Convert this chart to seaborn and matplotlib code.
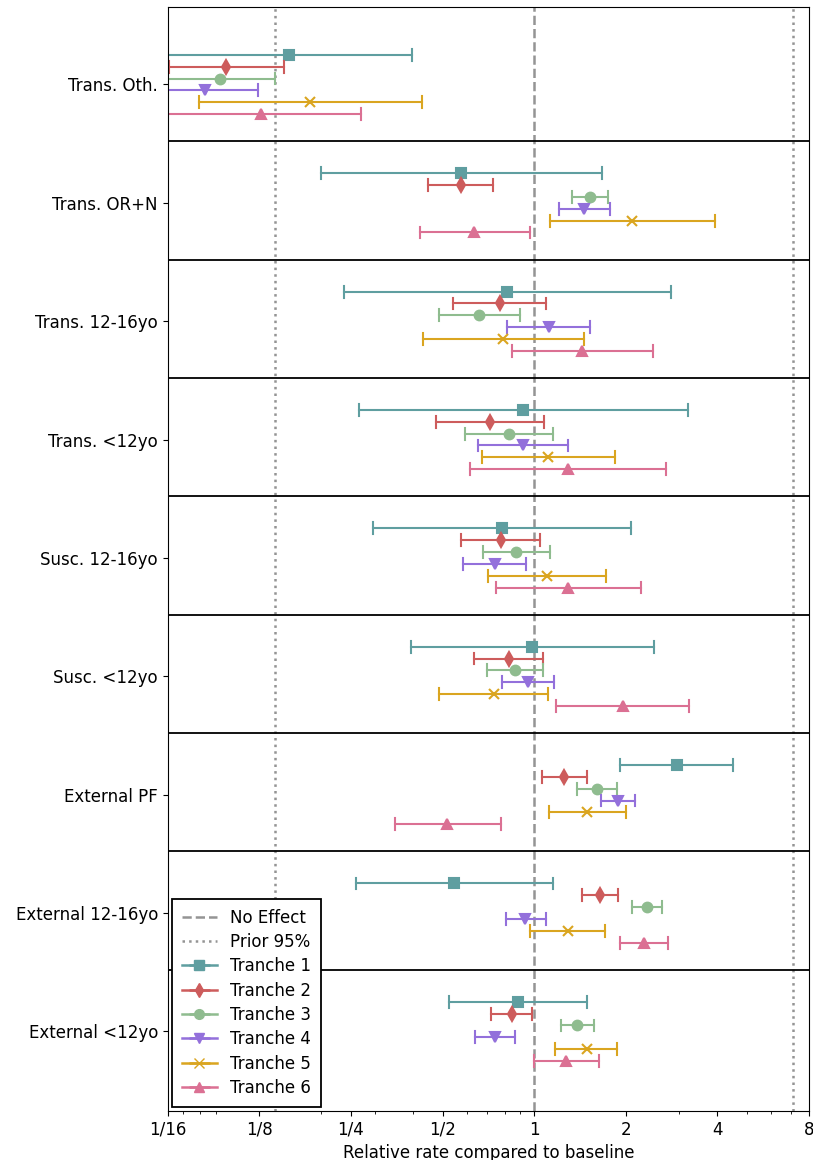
import numpy as np
import pandas as pd
import matplotlib
matplotlib.use("Agg")
import matplotlib.pyplot as plt
from matplotlib.ticker import NullFormatter
from matplotlib.container import ErrorbarContainer
from matplotlib.legend_handler import HandlerErrorbar
import seaborn as sns

categories = ['Trans. Oth.', 'Trans. OR+N', 'Trans. 12-16yo', 'Trans. <12yo',
              'Susc. 12-16yo', 'Susc. <12yo', 'External PF',
              'External 12-16yo', 'External <12yo']
tranches = ['Tranche 1', 'Tranche 2', 'Tranche 3', 'Tranche 4', 'Tranche 5', 'Tranche 6']

# median and 95% interval per category, one set of lists per tranche
t1_mid = [0.157, 0.576, 0.814, 0.921, 0.786, 0.984, 2.943, 0.547, 0.884]
t1_lo = [0.040, 0.200, 0.237, 0.266, 0.296, 0.393, 1.908, 0.260, 0.524]
t1_hi = [0.398, 1.665, 2.807, 3.205, 2.078, 2.473, 4.513, 1.149, 1.490]

t2_mid = [0.097, 0.576, 0.772, 0.715, 0.779, 0.824, 1.256, 1.644, 0.846]
t2_lo = [0.0633, 0.449, 0.543, 0.475, 0.577, 0.636, 1.062, 1.439, 0.722]
t2_hi = [0.151, 0.732, 1.096, 1.075, 1.048, 1.072, 1.490, 1.883, 0.984]

t3_mid = [0.093, 1.525, 0.661, 0.824, 0.873, 0.865, 1.608, 2.351, 1.385]
t3_lo = [0.045, 1.333, 0.487, 0.593, 0.680, 0.699, 1.385, 2.104, 1.229]
t3_hi = [0.141, 1.748, 0.898, 1.149, 1.124, 1.069, 1.877, 2.634, 1.572]

t4_mid = [0.083, 1.462, 1.117, 0.918, 0.743, 0.957, 1.883, 0.936, 0.743]
t4_lo = [0.040, 1.206, 0.817, 0.654, 0.582, 0.786, 1.660, 0.809, 0.640]
t4_hi = [0.124, 1.778, 1.523, 1.296, 0.942, 1.161, 2.137, 1.093, 0.862]

t5_mid = [0.183, 2.090, 0.791, 1.113, 1.103, 0.736, 1.490, 1.288, 1.486]
t5_lo = [0.079, 1.128, 0.432, 0.675, 0.706, 0.487, 1.120, 0.969, 1.175]
t5_hi = [0.427, 3.930, 1.462, 1.848, 1.718, 1.113, 2.000, 1.712, 1.877]

t6_mid = [0.127, 0.636, 1.435, 1.292, 1.296, 1.956, 0.519, 2.291, 1.272]
t6_lo = [0.040, 0.423, 0.843, 0.616, 0.747, 1.183, 0.348, 1.913, 1.000]
t6_hi = [0.269, 0.969, 2.457, 2.719, 2.249, 3.236, 0.779, 2.753, 1.634]

xtick_vals = [1/16, 1/8, 1/4, 1/2, 1, 2, 4, 8]
xtick_labels = ['1/16', '1/8', '1/4', '1/2', '1', '2', '4', '8']

colors = ['#5f9ea0', '#cd5c5c', '#8fbc8f', '#9370db', '#daa520', '#db7093']
markers = ['s', 'd', 'o', 'v', 'x', '^']

# long table: lower, median, upper rows for every category/tranche
mids = [t1_mid, t2_mid, t3_mid, t4_mid, t5_mid, t6_mid]
los = [t1_lo, t2_lo, t3_lo, t4_lo, t5_lo, t6_lo]
his = [t1_hi, t2_hi, t3_hi, t4_hi, t5_hi, t6_hi]
rows = []
for t, mid, lo, hi in zip(tranches, mids, los, his):
    for c, m, l, h in zip(categories, mid, lo, hi):
        for v in (l, m, h):
            rows.append({'category': c, 'tranche': t, 'value': v})
df = pd.DataFrame(rows)

plt.rcParams['font.size'] = 12
fig = plt.figure(figsize=(8.13, 11.6), dpi=100)
ax = fig.add_axes([0.2063, 0.0422, 0.7888, 0.9515])

ref_grey = '#949494'
no_eff = ax.axvline(1, color=ref_grey, linestyle='--', linewidth=1.8, label='No Effect', zorder=1)
prior = ax.axvline(np.exp(-1.96), color=ref_grey, linestyle=':', linewidth=1.8, label='Prior 95%', zorder=1)
ax.axvline(np.exp(1.96), color=ref_grey, linestyle=':', linewidth=1.8, zorder=1)

sns.pointplot(data=df, x='value', y='category', hue='tranche',
              order=categories, hue_order=tranches,
              estimator='median', errorbar=lambda v: (v.min(), v.max()),
              dodge=0.5, markers=markers, linestyles='none', palette=colors,
              capsize=0.1, err_kws={'linewidth': 1.5}, markersize=7,
              markeredgewidth=1.5, log_scale=True, legend=False, ax=ax)

for i in range(len(categories) - 1):
    ax.axhline(i + 0.48, color='black', linewidth=1.3)

ax.set_xlim(1/16, 8)
ax.set_ylim(8.673, -0.652)
ax.set_xticks(xtick_vals, xtick_labels)
ax.xaxis.set_minor_formatter(NullFormatter())
ax.set_xlabel('Relative rate compared to baseline')
ax.set_ylabel('')

# legend handles for the tranches
handles = [no_eff, prior]
for t, c, m in zip(tranches, colors, markers):
    eb = ax.errorbar([], [], xerr=[[], []], fmt='-' + m, color=c, markersize=7,
                     capsize=4.5, linewidth=1.8, elinewidth=1.8, label=t)
    handles.append(eb)
leg = ax.legend(handles=handles, labels=['No Effect', 'Prior 95%'] + tranches,
                loc='lower left', fancybox=False, edgecolor='black', framealpha=1,
                borderaxespad=0.25, borderpad=0.6, handlelength=2.1, labelspacing=0.38,
                handler_map={ErrorbarContainer: HandlerErrorbar(xerr_size=0.63)})
leg.get_frame().set_linewidth(1.3)

fig.savefig('out.png', dpi=100)
